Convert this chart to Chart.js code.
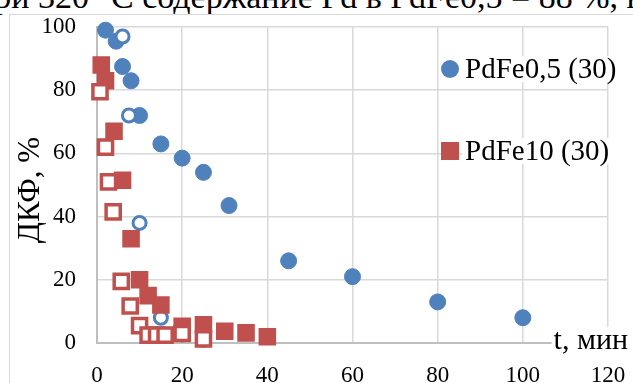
<!DOCTYPE html>
<html>
<head>
<meta charset="utf-8">
<script src="https://cdn.jsdelivr.net/npm/chart.js@4.4.1/dist/chart.umd.min.js"></script>
<style>
  html, body { margin: 0; padding: 0; background: #fff; overflow: hidden; }
  #wrap { position: relative; width: 633px; height: 383px; overflow: hidden; }
  #head { position: absolute; left: 0; top: 0; }
  #frame { position: absolute; left: 9px; top: 14px; width: 700px; height: 500px; border: 1.5px solid #d9d9d9; }
  canvas { position: absolute; left: 0; top: 0; }
</style>
</head>
<body>
<div id="wrap">
  <svg id="head" width="633" height="20">
    <text x="-24" y="8" font-family="Liberation Serif, serif" font-size="34" fill="#000">при 320 °С содержание Pd в PdFe0,5 = 88 %, в</text>
  </svg>
  <div id="frame"></div>
  <canvas id="chart" width="633" height="383"></canvas>
</div>
<script>
// t, мин / ДКФ, %
const pdfe05Time = [2, 4.5, 6, 8, 10, 15, 20, 25, 31, 45, 60, 80, 100];
const pdfe05Dkf = [99, 95.5, 87.5, 83, 72, 63, 58.5, 54, 43.5, 26, 21, 13, 8];
const pdfe05OpenTime = [6, 7.5, 10, 15, 20, 25];
const pdfe05OpenDkf = [97, 72, 38, 8, 2.7, 1];
const pdfe10Time = [1, 2, 4, 6, 8, 10, 12, 15, 20, 25, 30, 35, 40];
const pdfe10Dkf = [88, 83, 67, 51.5, 33, 20, 15, 12, 5.3, 5.8, 3.7, 3.2, 2];
const pdfe10OpenTime = [0.7, 2, 2.7, 3.8, 5.7, 7.8, 10, 12, 14, 16, 20, 25];
const pdfe10OpenDkf = [79.5, 62, 51, 41.5, 19.5, 11.7, 5.5, 2.5, 2.5, 2.5, 3, 1.3];

const legendLabels = ['PdFe0,5 (30)', 'PdFe10 (30)'];
const xTitle = 't, мин';
const yTitle = 'ДКФ, %';
const xMin = 0, xMax = 120, xStep = 20;
const yMin = 0, yMax = 100, yStep = 20;

const blue = '#4f81bd';
const red = '#c0504d';
const serif = "'Liberation Serif', serif";

Chart.defaults.font.family = serif;
Chart.defaults.color = '#000';

const toPoints = (xs, ys) => xs.map((x, i) => ({ x: x, y: ys[i] }));

// legend, axis titles drawn by hand (Excel places them inside the plot)
const overlay = {
  id: 'overlay',
  afterDraw(chart) {
    const ctx = chart.ctx;
    ctx.save();

    // x title, bottom right, white box behind
    ctx.font = '30px ' + serif;
    ctx.textAlign = 'right';
    ctx.textBaseline = 'alphabetic';
    const tw = ctx.measureText(xTitle).width;
    ctx.fillStyle = '#fff';
    ctx.fillRect(628 - tw - 2, 327, tw + 4, 28);
    ctx.fillStyle = '#000';
    ctx.fillText(xTitle, 628, 349);

    // y title
    ctx.save();
    ctx.translate(31, 190);
    ctx.rotate(-Math.PI / 2);
    ctx.font = '31px ' + serif;
    ctx.textAlign = 'center';
    ctx.textBaseline = 'middle';
    ctx.fillText(yTitle, 0, 0);
    ctx.restore();

    // legend
    const rows = [69, 151];
    ctx.font = '29px ' + serif;
    ctx.textAlign = 'left';
    ctx.textBaseline = 'middle';
    legendLabels.forEach((label, i) => {
      const ds = chart.data.datasets[i];
      const y = rows[i];
      const w = ctx.measureText(label).width;
      ctx.fillStyle = '#fff';
      ctx.fillRect(462, y - 13, w + 6, 26);
      ctx.fillStyle = ds.backgroundColor;
      if (ds.pointStyle === 'rect') {
        ctx.fillRect(441, y - 9, 18, 18);
      } else {
        ctx.beginPath();
        ctx.arc(450, y, 9, 0, Math.PI * 2);
        ctx.fill();
      }
      ctx.fillStyle = '#000';
      ctx.fillText(label, 465, y + 1);
    });
    ctx.restore();
  }
};

new Chart(document.getElementById('chart'), {
  type: 'scatter',
  data: {
    datasets: [
      {
        label: legendLabels[0],
        data: toPoints(pdfe05Time, pdfe05Dkf),
        pointStyle: 'circle',
        pointRadius: 8,
        borderWidth: 1,
        backgroundColor: blue,
        borderColor: blue,
        clip: false,
        order: 4
      },
      {
        label: legendLabels[1],
        data: toPoints(pdfe10Time, pdfe10Dkf),
        pointStyle: 'rect',
        pointRadius: 11,
        borderWidth: 2,
        borderJoinStyle: 'round',
        backgroundColor: red,
        borderColor: red,
        clip: false,
        order: 2
      },
      {
        label: 'PdFe0,5 (30) open',
        data: toPoints(pdfe05OpenTime, pdfe05OpenDkf),
        pointStyle: 'circle',
        pointRadius: 6.5,
        borderWidth: 3,
        backgroundColor: '#fff',
        borderColor: blue,
        clip: false,
        order: 3
      },
      {
        label: 'PdFe10 (30) open',
        data: toPoints(pdfe10OpenTime, pdfe10OpenDkf),
        pointStyle: 'rect',
        pointRadius: 10,
        borderWidth: 3.5,
        borderJoinStyle: 'round',
        backgroundColor: '#fff',
        borderColor: red,
        clip: false,
        order: 1
      }
    ]
  },
  options: {
    responsive: false,
    animation: false,
    events: [],
    layout: { padding: { top: 27, right: 25, left: 0, bottom: 0 } },
    plugins: {
      legend: { display: false },
      tooltip: { enabled: false }
    },
    scales: {
      x: {
        type: 'linear',
        min: xMin,
        max: xMax,
        afterFit: (s) => { s.height = 40; s.paddingLeft = 0; s.paddingRight = 0; },
        ticks: { stepSize: xStep, padding: 19, color: '#000', font: { family: serif, size: 23 } },
        grid: { color: '#d9d9d9', lineWidth: 1.5, drawTicks: false },
        border: { color: '#bfbfbf', width: 2 }
      },
      y: {
        min: yMin,
        max: yMax,
        afterFit: (s) => { s.width = 97; s.paddingTop = 0; s.paddingBottom = 0; },
        ticks: { stepSize: yStep, padding: 21, color: '#000', font: { family: serif, size: 23 } },
        grid: { color: '#d9d9d9', lineWidth: 1.5, drawTicks: false },
        border: { color: '#bfbfbf', width: 2 }
      }
    }
  },
  plugins: [overlay]
});
</script>
</body>
</html>
